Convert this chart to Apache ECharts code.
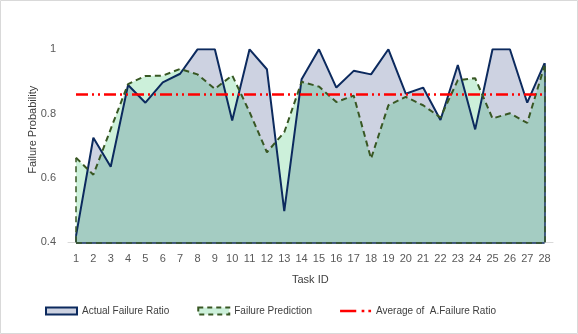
<!DOCTYPE html>
<html>
<head>
<meta charset="utf-8">
<script src="https://cdn.jsdelivr.net/npm/echarts@6/dist/echarts.min.js"></script>
<style>
  html, body { margin: 0; padding: 0; background: #fff; }
  #main { width: 578px; height: 334px; }
</style>
</head>
<body>
<div id="main"></div>
<script>
// 任务编号
const taskIds = ["1","2","3","4","5","6","7","8","9","10","11","12","13","14",
  "15","16","17","18","19","20","21","22","23","24","25","26","27","28"];
// 实际失效比例
const actualRatio = [0.42, 0.725, 0.635, 0.889, 0.834, 0.897, 0.924, 1, 1, 0.779,
  1, 0.938, 0.497, 0.907, 1, 0.881, 0.933, 0.922, 1, 0.862,
  0.881, 0.78, 0.951, 0.751, 1, 1, 0.834, 0.957];
// 预测值
const predicted = [0.663, 0.61, 0.752, 0.892, 0.917, 0.918, 0.939, 0.922, 0.877, 0.919,
  0.805, 0.68, 0.742, 0.899, 0.884, 0.836, 0.856, 0.66, 0.826, 0.852,
  0.826, 0.788, 0.904, 0.91, 0.785, 0.801, 0.771, 0.95];
const yTicks = { min: 0.4, max: 1, interval: 0.2 };

const FONT = "'Liberation Sans', Arial, sans-serif";
const navy = "#0c2a5e";
const green = "#385723";

// 面积图的外框（左右竖边和底边），和 Excel 一样
const edgeLines = (values) => {
  const last = taskIds.length - 1;
  return [
    [{ coord: [taskIds[0], yTicks.min] }, { coord: [taskIds[0], values[0]] }],
    [{ coord: [taskIds[last], yTicks.min] }, { coord: [taskIds[last], values[last]] }],
    [{ coord: [taskIds[0], yTicks.min] }, { coord: [taskIds[last], yTicks.min] }],
  ];
};

const myChart = echarts.init(document.getElementById("main"));

const options = {
  animation: false,
  textStyle: { fontFamily: FONT },
  graphic: [
    {
      type: "rect",
      shape: { x: 0.5, y: 0.5, width: 577, height: 333 },
      style: { fill: "none", stroke: "#d9d9d9", lineWidth: 1 },
      silent: true,
    },
  ],
  grid: [
    { left: 76, right: 33.4, top: 49.3, bottom: 91.7 },
    // 只用来画一条比数据范围稍长的 X 轴线
    { left: 68, right: 25, top: 49.3, bottom: 91.7 },
  ],
  legend: {
    left: 40,
    top: 301,
    itemWidth: 31,
    itemHeight: 7,
    itemGap: 28,
    textStyle: { fontSize: 10, color: "#404040", fontFamily: FONT },
    data: [
      {
        name: "Actual Failure Ratio",
        icon: "rect",
        itemStyle: { color: "#cdd2e1", borderColor: navy, borderWidth: 2 },
      },
      {
        name: "Failure Prediction",
        icon: "rect",
        itemStyle: { color: "#ccf0da", borderColor: green, borderWidth: 2, borderType: [5, 4] },
      },
      {
        name: "Average of  A.Failure Ratio",
        icon: "path://M0,0h12v2h-12zM16,0h2v2h-2zM21,0h2v2h-2z",
        itemStyle: { color: "#ff0000", borderWidth: 0 },
      },
    ],
  },
  xAxis: [
    {
      type: "category",
      data: taskIds,
      boundaryGap: false,
      gridIndex: 0,
      axisLine: { show: false },
      axisTick: { show: false },
      axisLabel: { color: "#595959", fontSize: 11, margin: 11 },
      name: "Task ID",
      nameLocation: "middle",
      nameGap: 32,
      nameTextStyle: { color: "#404040", fontSize: 11 },
    },
    {
      type: "value",
      gridIndex: 1,
      axisLine: { show: true, lineStyle: { color: "#d9d9d9", width: 1 } },
      axisTick: { show: false },
      axisLabel: { show: false },
      splitLine: { show: false },
    },
  ],
  yAxis: [
    {
      type: "value",
      gridIndex: 0,
      min: yTicks.min,
      max: yTicks.max,
      interval: yTicks.interval,
      axisLine: { show: false },
      axisTick: { show: false },
      splitLine: { show: false },
      axisLabel: { color: "#595959", fontSize: 11, margin: 20 },
      name: "Failure Probability",
      nameLocation: "middle",
      nameGap: 38,
      nameMoveOverlap: false,
      nameTextStyle: { color: "#404040", fontSize: 11, padding: [0, 0, 0, 32] },
    },
    {
      type: "value",
      gridIndex: 1,
      show: false,
    },
  ],
  series: [
    // 实际值
    {
      name: "Actual Failure Ratio",
      type: "line",
      data: actualRatio,
      showSymbol: false,
      symbol: "none",
      lineStyle: { color: navy, width: 2 },
      itemStyle: { color: navy },
      areaStyle: { origin: "start", color: "#cdd2e1", opacity: 1 },
      markLine: {
        silent: true,
        symbol: "none",
        label: { show: false },
        lineStyle: { color: navy, width: 1.5, type: "solid" },
        data: edgeLines(actualRatio),
      },
    },
    // 预测值（半透明，叠加后变成灰绿色）
    {
      name: "Failure Prediction",
      type: "line",
      data: predicted,
      showSymbol: false,
      symbol: "none",
      lineStyle: { color: green, width: 2, type: [6, 4] },
      itemStyle: { color: green },
      areaStyle: { origin: "start", color: "rgba(0,180,70,0.2)", opacity: 1 },
      markLine: {
        silent: true,
        symbol: "none",
        label: { show: false },
        lineStyle: { color: green, width: 1.5, type: [6, 4] },
        data: edgeLines(predicted),
      },
    },
    // 平均线
    {
      name: "Average of  A.Failure Ratio",
      type: "line",
      data: actualRatio,
      showSymbol: false,
      symbol: "none",
      silent: true,
      lineStyle: { opacity: 0 },
      itemStyle: { color: "#ff0000" },
      markLine: {
        silent: true,
        symbol: "none",
        label: { show: false },
        lineStyle: { color: "#ff0000", width: 2.5, type: [12, 4, 2, 4, 2, 4] },
        data: [{ type: "average" }],
      },
    },
  ],
};

myChart.setOption(options);
</script>
</body>
</html>
